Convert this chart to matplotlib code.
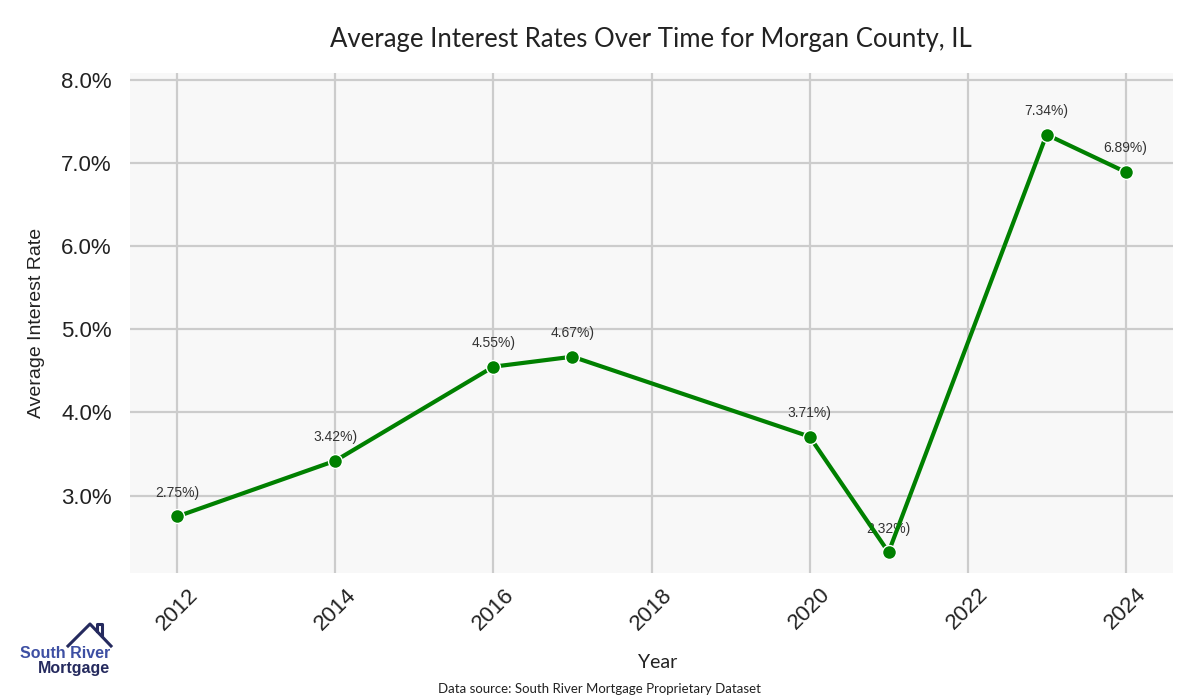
import matplotlib
matplotlib.use("Agg")
import matplotlib.pyplot as plt
from matplotlib.lines import Line2D
from matplotlib.ticker import FuncFormatter

years = [2012, 2014, 2016, 2017, 2020, 2021, 2023, 2024]
rates = [2.75, 3.42, 4.55, 4.67, 3.71, 2.32, 7.34, 6.89]
x_ticks = [2012, 2014, 2016, 2018, 2020, 2022, 2024]
y_ticks = [3.0, 4.0, 5.0, 6.0, 7.0, 8.0]

TITLE_FONT = ["Lato", "DejaVu Sans"]
BODY_FONT = ["Liberation Sans", "DejaVu Sans"]

fig = plt.figure(figsize=(12, 7), dpi=100)
ax = fig.add_axes([130 / 1200, 1 - 573 / 700, 1043 / 1200, 500 / 700])
ax.set_facecolor("#f8f8f8")
for s in ax.spines.values():
    s.set_visible(False)
ax.grid(True, color="#cccccc", linewidth=1.6)
ax.set_axisbelow(True)

for x, y in zip(years, rates):
    ax.annotate(f"{y:.2f}%)", (x, y), xytext=(0, 12), textcoords="offset points",
                ha="center", va="bottom", fontsize=10, color="#333333",
                family=BODY_FONT, zorder=2)
ax.plot(years, rates, color="#008000", linewidth=3, marker="o", markersize=10,
        markeredgecolor="white", markeredgewidth=1, zorder=3)

ax.set_xlim(2011.4, 2024.6)
ax.set_ylim(2.07, 8.08)
ax.set_xticks(x_ticks)
ax.set_yticks(y_ticks)
ax.yaxis.set_major_formatter(FuncFormatter(lambda v, p: f"{v:.1f}%"))
ax.tick_params(length=0, labelsize=16, labelcolor="#222222")
ax.tick_params(axis="y", pad=13)
ax.tick_params(axis="x", pad=8)
for lab in ax.get_xticklabels() + ax.get_yticklabels():
    lab.set_family(BODY_FONT)
for lab in ax.get_xticklabels():
    lab.set_rotation(45)
    lab.set_ha("center")
    lab.set_va("top")

ax.set_ylabel("Average Interest Rate", fontsize=14, color="#222222", family=BODY_FONT, labelpad=12)
fig.text(651 / 1200, 1 - 40 / 700, "Average Interest Rates Over Time for Morgan County, IL",
         ha="center", va="center", fontsize=18.5, color="#222222", family=TITLE_FONT)
fig.text(658 / 1200, 1 - 662 / 700, "Year", ha="center", va="center", fontsize=14,
         color="#222222", family=TITLE_FONT)
fig.text(600 / 1200, 1 - 689 / 700, "Data source: South River Mortgage Proprietary Dataset",
         ha="center", va="center", fontsize=9.5, color="#222222", family=TITLE_FONT)

# logo
navy = "#252a5e"
px = lambda x, y: (x / 1200, 1 - y / 700)
house = [px(68, 646), px(90, 624), px(111, 646)]
chimney = [px(97, 631), px(97, 624), px(102, 624), px(102, 636)]
for pts in (house, chimney):
    xs, ys = zip(*pts)
    fig.add_artist(Line2D(xs, ys, color=navy, linewidth=2.2, transform=fig.transFigure))
fig.text(*px(110, 653), "South River", ha="right", va="center", fontsize=11.5,
         fontweight="bold", color="#3d4fa3", family=BODY_FONT)
fig.text(*px(110, 669), "Mortgage", ha="right", va="center", fontsize=11.5,
         fontweight="bold", color=navy, family=BODY_FONT)

fig.savefig("out.png", dpi=100)
